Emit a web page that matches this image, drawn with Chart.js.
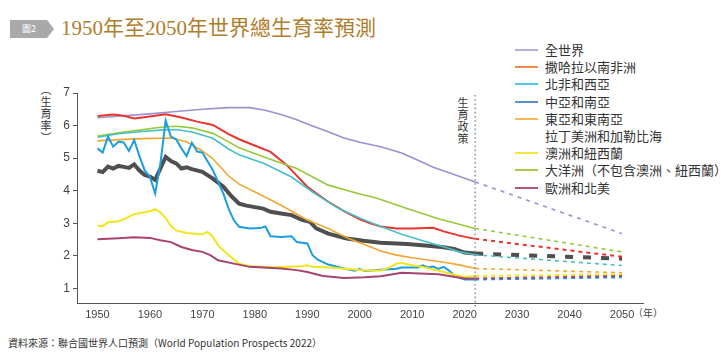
<!DOCTYPE html>
<html>
<head>
<meta charset="utf-8">
<script src="https://cdn.jsdelivr.net/npm/chart.js@4"></script>
<style>
  body { margin: 0; width: 724px; height: 359px; background: #fff; position: relative; overflow: hidden;
         font-family: "Noto Sans CJK TC", "Liberation Sans", sans-serif; }
  #chart { position: absolute; left: 0; top: 0; }
  .badge { position: absolute; left: 10px; top: 20px; width: 44px; height: 18px; background: #a9a9a9;
           clip-path: polygon(0 0, 37px 0, 44px 9px, 37px 18px, 0 18px);
           color: #fff; font-size: 9px; line-height: 18px; padding-left: 12px; box-sizing: border-box; }
  .title { position: absolute; left: 61px; top: 17px; font-size: 21px; line-height: 22px; color: #b07d2c;
           font-family: "Liberation Serif", "Noto Sans CJK TC", serif; }
  .ytitle { position: absolute; left: 38px; top: 84px; writing-mode: vertical-rl; font-size: 11px;
            color: #333; letter-spacing: 1px; }
  .policy { position: absolute; left: 455px; top: 97px; writing-mode: vertical-rl; font-size: 11px;
            color: #333; letter-spacing: 1px; }
  .unit { position: absolute; left: 633px; top: 305px; font-size: 10px; color: #444; }
  .source { position: absolute; left: 8px; top: 335px; font-size: 10px; color: #333; }
  #legend { position: absolute; left: 515px; top: 41px; }
  #legend .row { height: 17.2px; line-height: 17.2px; font-size: 13px; color: #333; white-space: nowrap; position: relative; }
  #legend .sw { position: absolute; left: 0; top: 8px; width: 23px; height: 2px; }
  #legend .tx { position: absolute; left: 30px; top: 0; }
</style>
</head>
<body>
<div class="badge">圖2</div>
<div class="title">1950年至2050年世界總生育率預測</div>
<div class="ytitle">（生育率）</div>
<div class="policy">生育政策</div>
<div class="unit">（年）</div>
<div class="source">資料來源：聯合國世界人口預測（World Population Prospects 2022）</div>
<div id="legend"></div>
<canvas id="chart" width="724" height="359"></canvas>
<script>
// legend labels, in the order shown on the picture
const LABELS = ['全世界', '撒哈拉以南非洲', '北非和西亞', '中亞和南亞', '東亞和東南亞',
  '拉丁美洲和加勒比海', '澳洲和紐西蘭', '大洋洲（不包含澳洲、紐西蘭）', '歐洲和北美'];
const LEGEND_COLORS = ['#b9aadc', '#f08b4e', '#55c7e6', '#5b8fca', '#f6ba52',
  null, '#f4e63a', '#a6cc4a', '#b0547b'];

const X_TICKS = [1950, 1960, 1970, 1980, 1990, 2000, 2010, 2020, 2030, 2040, 2050];
const Y_TICKS = [1, 2, 3, 4, 5, 6, 7];
const POLICY_YEAR = 2022;

// 全世界 (purple)
const worldYears = [1950, 1955, 1960, 1965, 1970, 1975, 1979, 1982, 1985, 1988, 1991, 1994, 1997, 2000, 2004, 2008, 2011, 2014, 2018, 2022, 2050];
const worldValues = [6.24, 6.30, 6.36, 6.43, 6.50, 6.55, 6.55, 6.47, 6.34, 6.18, 5.99, 5.81, 5.62, 5.49, 5.35, 5.16, 4.94, 4.72, 4.50, 4.27, 2.68];

// 撒哈拉以南非洲 (red)
const ssaYears = [1950, 1953, 1955, 1957, 1960, 1963, 1966, 1969, 1972, 1975, 1977, 1979, 1983, 1986, 1990, 1994, 1997, 2000, 2002, 2004, 2007, 2010, 2014, 2016, 2019, 2022, 2050];
const ssaValues = [6.29, 6.34, 6.30, 6.22, 6.28, 6.35, 6.25, 6.12, 6.02, 5.74, 5.58, 5.45, 5.19, 4.80, 4.12, 3.66, 3.37, 3.12, 3.00, 2.90, 2.84, 2.84, 2.86, 2.75, 2.62, 2.52, 1.97];

// 北非和西亞 (cyan)
const nawaYears = [1950, 1954, 1958, 1962, 1965, 1968, 1972, 1975, 1977, 1982, 1987, 1991, 1996, 2000, 2003, 2008, 2012, 2016, 2019, 2022, 2050];
const nawaValues = [5.64, 5.75, 5.81, 5.86, 5.88, 5.80, 5.61, 5.28, 5.10, 4.82, 4.42, 3.96, 3.45, 3.16, 2.96, 2.66, 2.46, 2.28, 2.12, 2.03, 1.70];

// 中亞和南亞 (blue, jagged)
const csaYears = [1950, 1951, 1952, 1953, 1954, 1955, 1956, 1957, 1958, 1959, 1960, 1961, 1962, 1963, 1964, 1965, 1966, 1967, 1968, 1969, 1970, 1972, 1974, 1975, 1976, 1977, 1979, 1981, 1982, 1983, 1985, 1987, 1988, 1990, 1991, 1992, 1994, 1997, 1999, 2000, 2001, 2004, 2007, 2008, 2011, 2012, 2013, 2014, 2015, 2016, 2017, 2018, 2019, 2020, 2022, 2050];
const csaValues = [5.30, 5.17, 5.66, 5.35, 5.50, 5.48, 5.22, 5.55, 5.06, 4.63, 4.42, 3.91, 4.84, 6.15, 5.66, 5.58, 5.30, 5.06, 5.47, 5.20, 5.17, 4.63, 3.91, 3.45, 3.09, 2.89, 2.84, 2.85, 2.90, 2.60, 2.58, 2.60, 2.42, 2.38, 2.02, 1.88, 1.73, 1.61, 1.54, 1.59, 1.53, 1.57, 1.60, 1.64, 1.64, 1.71, 1.64, 1.67, 1.60, 1.66, 1.55, 1.40, 1.32, 1.27, 1.27, 1.34];

// 東亞和東南亞 (orange)
const esaYears = [1950, 1957, 1964, 1967, 1970, 1972, 1975, 1977, 1981, 1985, 1990, 1994, 1998, 2001, 2004, 2007, 2010, 2013, 2016, 2019, 2022, 2050];
const esaValues = [5.53, 5.59, 5.62, 5.50, 5.22, 4.98, 4.45, 4.20, 3.88, 3.55, 3.10, 2.84, 2.52, 2.34, 2.15, 2.02, 1.94, 1.87, 1.80, 1.72, 1.61, 1.48];

// 拉丁美洲和加勒比海 (thick dark grey, no legend swatch)
const latYears = [1950, 1951, 1952, 1953, 1954, 1955, 1956, 1957, 1958, 1959, 1960, 1961, 1962, 1963, 1964, 1965, 1966, 1967, 1968, 1970, 1972, 1974, 1975.6, 1977, 1978.4, 1981.6, 1983, 1985, 1987, 1989, 1990.5, 1991.7, 1994, 1997.5, 2000.7, 2004, 2009, 2013, 2016, 2018, 2020, 2022, 2050];
const latValues = [4.61, 4.57, 4.74, 4.68, 4.76, 4.73, 4.70, 4.81, 4.62, 4.48, 4.43, 4.33, 4.68, 5.04, 4.91, 4.84, 4.68, 4.72, 4.66, 4.58, 4.37, 4.12, 3.82, 3.60, 3.54, 3.45, 3.35, 3.30, 3.25, 3.10, 3.04, 2.84, 2.68, 2.53, 2.46, 2.40, 2.36, 2.31, 2.26, 2.21, 2.10, 2.07, 1.91];

// 澳洲和紐西蘭 (yellow)
const anzYears = [1950, 1951, 1952, 1954, 1955, 1957, 1959, 1960, 1961, 1962, 1963, 1964, 1965, 1967, 1969, 1970, 1971, 1972, 1973, 1975, 1977, 1979, 1984, 1989, 1990, 1991, 1995, 2001, 2004, 2005.5, 2007, 2008, 2010, 2012, 2016, 2018, 2020, 2022, 2050];
const anzValues = [2.92, 2.91, 3.03, 3.06, 3.12, 3.28, 3.34, 3.37, 3.43, 3.33, 3.16, 2.92, 2.78, 2.70, 2.67, 2.66, 2.73, 2.58, 2.32, 2.02, 1.76, 1.68, 1.65, 1.68, 1.71, 1.66, 1.63, 1.55, 1.55, 1.63, 1.76, 1.78, 1.71, 1.66, 1.50, 1.42, 1.35, 1.38, 1.43];

// 大洋洲（不包含澳洲、紐西蘭） (green)
const oceYears = [1950, 1955, 1958, 1962, 1965, 1968, 1972, 1975, 1977, 1982, 1988, 1994, 2000, 2003, 2009, 2015, 2022, 2050];
const oceValues = [5.68, 5.80, 5.86, 5.95, 5.98, 5.93, 5.76, 5.50, 5.32, 5.02, 4.68, 4.17, 3.90, 3.78, 3.45, 3.14, 2.84, 2.12];

// 歐洲和北美 (maroon)
const eunaYears = [1950, 1954, 1957, 1960, 1962, 1964, 1966, 1968, 1970, 1971.5, 1973, 1976, 1979, 1985, 1988, 1990, 1993, 1997, 2001, 2004, 2008, 2015, 2020, 2022, 2050];
const eunaValues = [2.51, 2.54, 2.57, 2.55, 2.48, 2.42, 2.27, 2.18, 2.12, 2.02, 1.86, 1.76, 1.66, 1.61, 1.56, 1.50, 1.38, 1.32, 1.34, 1.37, 1.48, 1.43, 1.30, 1.30, 1.38];

function pts(years, values) {
  return years.map((y, i) => ({ x: y, y: values[i] }));
}

function series(label, years, values, color, width, dash) {
  return {
    label,
    data: pts(years, values),
    borderColor: color,
    borderWidth: width,
    pointRadius: 0,
    tension: 0,
    fill: false,
    segment: {
      borderDash: (ctx) => (ctx.p0.parsed.x >= POLICY_YEAR ? dash : undefined),
    },
  };
}

// drawing order: thin lines first, thick grey on top of most
const datasets = [
  series(LABELS[8], eunaYears, eunaValues, '#a8436f', 2, [4, 4]),
  series(LABELS[6], anzYears, anzValues, '#f2e51c', 2, [4, 4]),
  series(LABELS[3], csaYears, csaValues, '#1c9de0', 2, [4, 4]),
  series(LABELS[4], esaYears, esaValues, '#f2a632', 1.6, [4, 4]),
  series(LABELS[2], nawaYears, nawaValues, '#47bfc6', 1.6, [4, 4]),
  series(LABELS[7], oceYears, oceValues, '#98c83b', 1.6, [4, 4]),
  series(LABELS[1], ssaYears, ssaValues, '#e8352f', 2, [4, 4]),
  series(LABELS[0], worldYears, worldValues, '#9d8fd0', 1.6, [4, 5]),
  series(LABELS[5], latYears, latValues, '#4f4f4f', 4, [8, 10]),
];

// html legend
const legendEl = document.getElementById('legend');
LABELS.forEach((name, i) => {
  const row = document.createElement('div');
  row.className = 'row';
  const sw = LEGEND_COLORS[i] ? `<span class="sw" style="background:${LEGEND_COLORS[i]}"></span>` : '';
  row.innerHTML = sw + `<span class="tx">${name}</span>`;
  legendEl.appendChild(row);
});

const policyLine = {
  id: 'policyLine',
  afterDraw(chart) {
    const { ctx, chartArea, scales } = chart;
    const x = scales.x.getPixelForValue(POLICY_YEAR);
    ctx.save();
    ctx.strokeStyle = '#9a9a9a';
    ctx.lineWidth = 1.6;
    ctx.setLineDash([1.6, 2.6]);
    ctx.beginPath();
    ctx.moveTo(x, chartArea.top + 2);
    ctx.lineTo(x, chartArea.bottom + 6);
    ctx.stroke();
    ctx.restore();
  },
};

const tickFont = { family: '"Liberation Sans", Arial, sans-serif', size: 11 };

new Chart(document.getElementById('chart'), {
  type: 'line',
  data: { datasets },
  options: {
    responsive: false,
    animation: false,
    devicePixelRatio: 1,
    layout: { padding: { top: 93, right: 81, left: 0, bottom: 0 } },
    plugins: { legend: { display: false }, tooltip: { enabled: false } },
    scales: {
      x: {
        type: 'linear',
        min: 1946.1,
        max: 2054,
        afterBuildTicks: (s) => { s.ticks = X_TICKS.map((v) => ({ value: v })); },
        afterFit: (s) => { s.height = 56; },
        grid: { drawOnChartArea: false, drawTicks: false },
        border: { display: true, color: '#555', width: 1 },
        ticks: { color: '#444', font: tickFont, padding: 5, maxRotation: 0, autoSkip: false,
                 callback: (v) => String(v) },
      },
      y: {
        min: 0.55,
        max: 7,
        afterBuildTicks: (s) => { s.ticks = Y_TICKS.map((v) => ({ value: v })); },
        afterFit: (s) => { s.width = 77; },
        grid: { drawOnChartArea: false, drawTicks: true, tickLength: 4, color: '#555' },
        border: { display: true, color: '#555', width: 1 },
        ticks: { color: '#444', font: { family: tickFont.family, size: 12 }, padding: 3 },
      },
    },
  },
  plugins: [policyLine],
});
</script>
</body>
</html>
